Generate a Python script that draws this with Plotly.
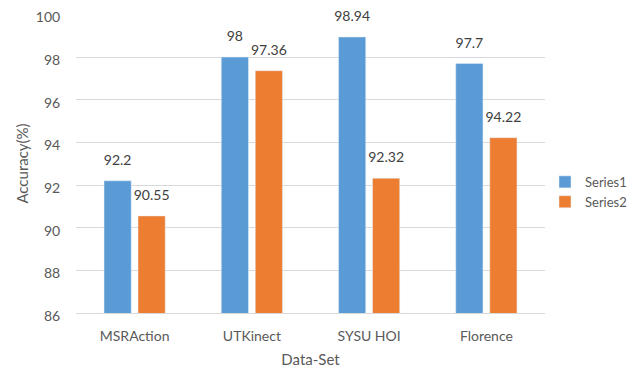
import plotly.graph_objects as go

categories = ["MSRAction", "UTKinect", "SYSU HOI", "Florence"]
series1 = [92.2, 98, 98.94, 97.7]
series2 = [90.55, 97.36, 92.32, 94.22]
y_ticks = [86, 88, 90, 92, 94, 96, 98, 100]

font_family = "Lato, 'Open Sans', sans-serif"
colors = ["#5B9BD5", "#ED7D31"]
names = ["Series1", "Series2"]

fig = go.Figure()
for name, vals, col in zip(names, [series1, series2], colors):
    fig.add_trace(go.Bar(x=categories, y=vals, name=name, marker_color=col,
                         offsetgroup=name, alignmentgroup="a"))
for name, vals in zip(names, [series1, series2]):
    fig.add_trace(go.Scatter(x=categories, y=vals, mode="markers+text",
                             text=[str(v) for v in vals], textposition="top center",
                             marker=dict(size=18, opacity=0), showlegend=False,
                             offsetgroup=name, alignmentgroup="a",
                             hoverinfo="skip", cliponaxis=False,
                             textfont=dict(size=14, color="#404040", family=font_family)))

fig.update_layout(
    width=628, height=364,
    margin=dict(l=68, r=91, t=6, b=59, autoexpand=False),
    paper_bgcolor="white", plot_bgcolor="white",
    barmode="group", bargap=0.42, bargroupgap=0.2,
    scattermode="group", scattergap=0.42,
    font=dict(family=font_family, color="#595959", size=13),
    legend=dict(x=1.0, y=0.405, xanchor="left", yanchor="middle",
                font=dict(size=13, color="#595959"), itemwidth=30),
    showlegend=True,
)
fig.update_yaxes(range=[86, 100.02], tickvals=y_ticks, showgrid=True,
                 gridcolor="#D9D9D9", gridwidth=1, zeroline=False,
                 showline=False, ticks="outside", ticklen=12, tickcolor="white",
                 automargin=False, ticklabeloverflow="allow", ticklabelshift=3,
                 tickfont=dict(size=14, color="#595959"),
                 title=dict(text="Accuracy(%)", font=dict(size=15, color="#595959"), standoff=3))
fig.update_xaxes(showline=True, linecolor="#D9D9D9", linewidth=1,
                 ticks="outside", ticklen=10, tickcolor="white",
                 automargin=False,
                 tickfont=dict(size=14, color="#595959"),
                 title=dict(text="Data-Set", font=dict(size=15, color="#595959"), standoff=11))

fig.write_html("out.html")
